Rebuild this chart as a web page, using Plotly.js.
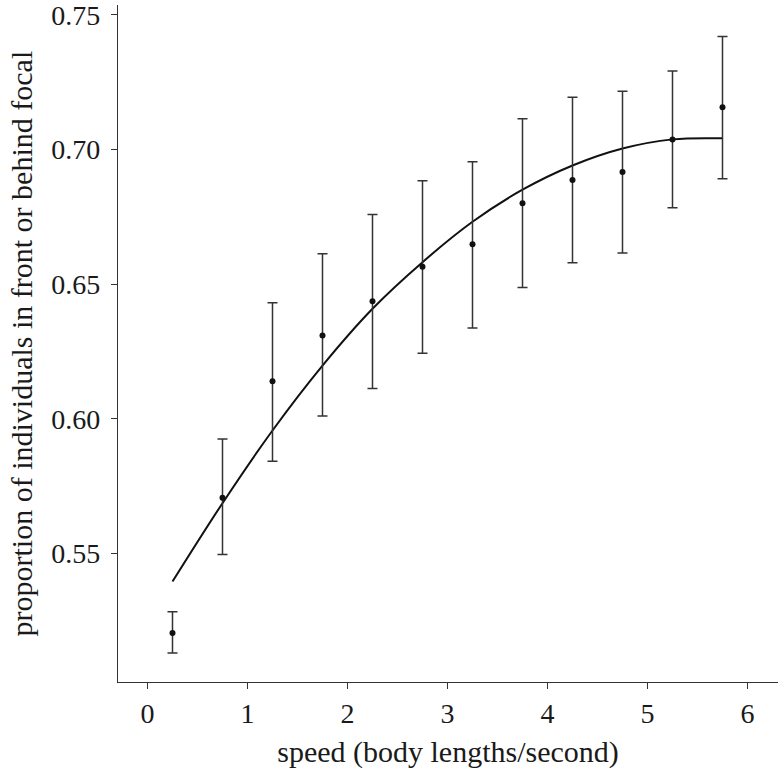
<!DOCTYPE html>
<html>
<head>
<meta charset="utf-8">
<script src="https://cdn.plot.ly/plotly-3.0.1.min.js"></script>
<style>html,body{margin:0;padding:0;background:#fff;}#chart{width:778px;height:769px;}</style>
</head>
<body>
<div id="chart"></div>
<script>
// speed bins (body lengths/second)
const speed = [0.25, 0.75, 1.25, 1.75, 2.25, 2.75, 3.25, 3.75, 4.25, 4.75, 5.25, 5.75];
// mean proportion in front or behind focal
const meanProp = [0.5205, 0.5707, 0.6140, 0.6310, 0.6437, 0.6565, 0.6649, 0.6801, 0.6887, 0.6917, 0.7038, 0.7157];
// error bar bounds
const upperBound = [0.5284, 0.5925, 0.6431, 0.6613, 0.6759, 0.6884, 0.6955, 0.7115, 0.7194, 0.7217, 0.7292, 0.7420];
const lowerBound = [0.5131, 0.5496, 0.5843, 0.6011, 0.6113, 0.6244, 0.6338, 0.6488, 0.6580, 0.6616, 0.6784, 0.6892];
// fitted curve
const fitProp = [0.5396, 0.5687, 0.5957, 0.6198, 0.6409, 0.6582, 0.6732, 0.6851, 0.6941, 0.7004, 0.7038, 0.7042];
const yTicks = [0.55, 0.60, 0.65, 0.70, 0.75];
const xTicks = [0, 1, 2, 3, 4, 5, 6];
const yTitle = 'proportion of individuals in front or behind focal';
const xTitle = 'speed (body lengths/second)';

const errPlus = upperBound.map((u, i) => u - meanProp[i]);
const errMinus = lowerBound.map((l, i) => meanProp[i] - l);

const font = '"Liberation Serif", "Times New Roman", serif';

const traces = [
  {
    x: speed, y: fitProp, type: 'scatter', mode: 'lines',
    line: {color: '#111', width: 2, shape: 'spline', smoothing: 1},
    hoverinfo: 'skip', showlegend: false
  },
  {
    x: speed, y: meanProp, type: 'scatter', mode: 'markers',
    marker: {color: '#111', size: 6},
    error_y: {type: 'data', symmetric: false, array: errPlus, arrayminus: errMinus,
              color: '#333', thickness: 1.5, width: 5},
    showlegend: false
  }
];

const layout = {
  width: 778, height: 769,
  margin: {l: 118, r: 0, t: 5, b: 87, pad: 0},
  paper_bgcolor: '#fff', plot_bgcolor: '#fff',
  font: {family: font, color: '#1a1a1a', size: 28},
  showlegend: false,
  xaxis: {
    range: [-0.295, 6.305],
    tickvals: xTicks, ticktext: xTicks.map(String),
    ticks: 'outside', ticklen: 6, tickwidth: 1, tickcolor: '#333',
    ticklabeloverflow: 'allow',
    showline: true, linecolor: '#333', linewidth: 1.2,
    showgrid: false, zeroline: false,
    tickfont: {family: font, size: 28, color: '#1a1a1a'},
    title: {text: xTitle, font: {family: font, size: 30, color: '#1a1a1a'}, standoff: 22}
  },
  yaxis: {
    range: [0.5023, 0.7537],
    tickvals: yTicks, ticktext: yTicks.map(v => v.toFixed(2)),
    ticks: 'outside', ticklen: 6, tickwidth: 1, tickcolor: '#333',
    ticklabeloverflow: 'allow', ticklabelstandoff: 5,
    showline: true, linecolor: '#333', linewidth: 1.2,
    showgrid: false, zeroline: false,
    tickfont: {family: font, size: 28, color: '#1a1a1a'}
  },
  annotations: [{
    text: yTitle, xref: 'paper', yref: 'paper',
    x: (21 - 118) / 660, y: 0.5, xanchor: 'center', yanchor: 'middle',
    textangle: -90, showarrow: false,
    font: {family: font, size: 30, color: '#1a1a1a'}
  }]
};

Plotly.newPlot('chart', traces, layout, {displayModeBar: false, staticPlot: true});
</script>
</body>
</html>
